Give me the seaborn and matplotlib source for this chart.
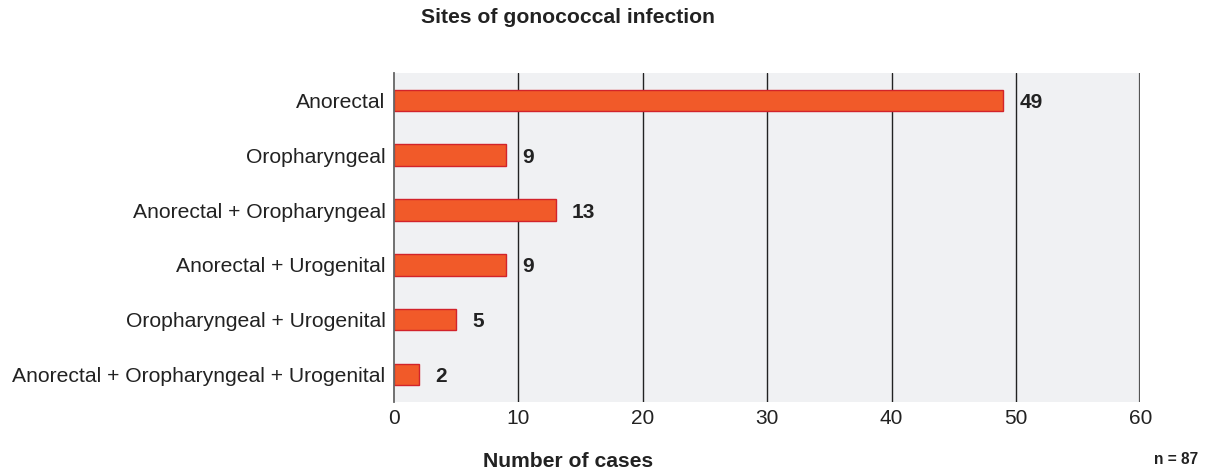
import matplotlib
matplotlib.use("Agg")
import matplotlib.pyplot as plt
import seaborn as sns
import pandas as pd

categories = [
    "Anorectal",
    "Oropharyngeal",
    "Anorectal + Oropharyngeal",
    "Anorectal + Urogenital",
    "Oropharyngeal + Urogenital",
    "Anorectal + Oropharyngeal + Urogenital",
]
cases = [49, 9, 13, 9, 5, 2]
x_ticks = [0, 10, 20, 30, 40, 50, 60]

df = pd.DataFrame({"site": categories, "cases": cases})

sns.set_theme(style="white")
plt.rcParams["font.family"] = ["Liberation Sans", "DejaVu Sans"]

fig = plt.figure(figsize=(12.08, 4.73), dpi=100)
ax = fig.add_axes([0.326, 0.150, 0.618, 0.696])
ax.set_facecolor("#F0F1F3")

sns.barplot(data=df, x="cases", y="site", orient="h", ax=ax,
            color="#F15A29", edgecolor="#D2232A", linewidth=1.0,
            width=0.39, saturation=1)

ax.set_xlim(0, 60)
ax.set_ylim(5.5, -0.5)
ax.set_xticks(x_ticks)
ax.set_xticklabels([str(t) for t in x_ticks], fontsize=15, color="#222222")
ax.tick_params(axis="y", labelsize=15.2, labelcolor="#222222", length=0, pad=6)
ax.tick_params(axis="x", length=0, pad=5)
ax.set_xlabel("")
ax.set_ylabel("")
for t in x_ticks[1:-1]:
    ax.axvline(t, color="#222222", lw=1.0, zorder=0.5)
ax.axvline(60, color="#555555", lw=1.6, zorder=0.5)
for s in ["top", "right", "bottom"]:
    ax.spines[s].set_visible(False)
ax.spines["left"].set_color("#666666")
ax.spines["left"].set_linewidth(1.3)
ax.set_axisbelow(True)

for i, v in enumerate(cases):
    ax.text(v + 1.3, i, str(v), va="center_baseline", ha="left", fontsize=15,
            fontweight="bold", color="#222222")

fig.text(0.47, 0.962, "Sites of gonococcal infection", ha="center", va="center",
         fontsize=15.2, fontweight="bold", color="#222222")
fig.text(0.47, 0.024, "Number of cases", ha="center", va="center",
         fontsize=15.2, fontweight="bold", color="#222222")
fig.text(0.992, 0.028, "n = 87", ha="right", va="center",
         fontsize=11.2, fontweight="bold", color="#222222")

fig.savefig("out.png", dpi=100)
